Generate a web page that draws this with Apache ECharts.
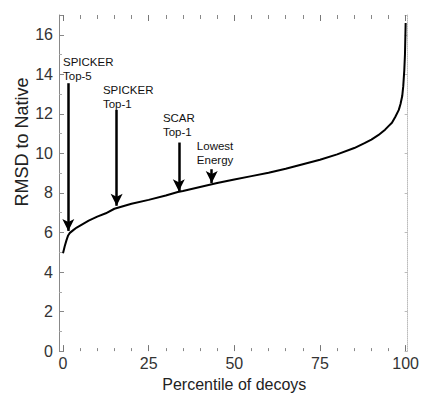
<!DOCTYPE html>
<html>
<head>
<meta charset="utf-8">
<script src="https://cdn.jsdelivr.net/npm/echarts@6/dist/echarts.min.js"></script>
<style>
html,body{margin:0;padding:0;background:#fff;}
#chart{width:422px;height:397px;}
</style>
</head>
<body>
<div id="chart"></div>
<script>
// Percentile of decoys (x) and RMSD to native (y)
var percentile = [0, 0.5, 1, 1.5, 2, 3, 4, 5, 7.5, 10, 12.5, 15, 17.5, 20, 25, 30, 33.5, 35, 40, 45, 50, 55, 60, 65, 70, 75, 80, 85, 88, 90, 92, 94, 95, 96, 97, 98, 98.5, 99, 99.3, 99.6, 99.8, 100];
var rmsd = [4.95, 5.3, 5.6, 5.85, 5.98, 6.12, 6.25, 6.35, 6.6, 6.8, 6.97, 7.2, 7.33, 7.45, 7.65, 7.87, 8.05, 8.1, 8.3, 8.5, 8.68, 8.85, 9.02, 9.22, 9.45, 9.68, 9.95, 10.27, 10.52, 10.7, 10.92, 11.2, 11.38, 11.55, 11.85, 12.2, 12.5, 12.9, 13.4, 14.2, 15.0, 16.6];

var xTicks = [0, 25, 50, 75, 100];
var yTicks = [0, 2, 4, 6, 8, 10, 12, 14, 16];

// Annotations (arrow x, arrow start y, arrow tip y, label x, label y, text)
var annoText = ['SPICKER\nTop-5', 'SPICKER\nTop-1', 'SCAR\nTop-1', 'Lowest\nEnergy'];
var annoX = [1.55, 15.65, 33.8, 43.4];
var annoTop = [13.55, 12.2, 10.55, 9.2];
var annoTip = [6.08, 7.35, 8.08, 8.5];
var labelX = [0, 11.66, 29.15, 39.07];
var labelY = [15.0, 13.55, 12.15, 10.75];

var FONT = 'Liberation Sans, Arial, Helvetica, sans-serif';
var chart = echarts.init(document.getElementById('chart'), null, {renderer: 'svg'});

var data = percentile.map(function (p, i) { return [p, rmsd[i]]; });

var markLines = annoX.map(function (x, i) {
  return [{coord: [x, annoTop[i]]}, {coord: [x, annoTip[i]]}];
});
var markPoints = annoText.map(function (t, i) {
  return {coord: [labelX[i], labelY[i]], value: t};
});

var option = {
  backgroundColor: '#fff',
  animation: false,
  grid: {left: 63, right: 16, top: 15, bottom: 42, containLabel: false},
  xAxis: [{
    type: 'value', gridIndex: 0, min: xTicks[0], max: xTicks[xTicks.length - 1], interval: 25,
    position: 'bottom',
    name: 'Percentile of decoys', nameLocation: 'middle', nameGap: 21,
    nameTextStyle: {fontFamily: FONT, fontSize: 16, color: '#222'},
    axisLine: {show: true, onZero: false, lineStyle: {color: 'rgba(0,0,0,0)'}},
    axisTick: {show: true, inside: true, length: 6, lineStyle: {color: '#777', width: 1}},
    minorTick: {show: true, splitNumber: 5, length: 3, lineStyle: {color: '#888', width: 1}},
    axisLabel: {fontFamily: FONT, fontSize: 16, color: '#333', margin: 4},
    splitLine: {show: false}, minorSplitLine: {show: false}
  }, {
    type: 'value', gridIndex: 0, min: xTicks[0], max: xTicks[xTicks.length - 1], interval: 25,
    position: 'top',
    axisLine: {show: true, onZero: false, lineStyle: {color: 'rgba(0,0,0,0)'}},
    axisTick: {show: true, inside: true, length: 6, lineStyle: {color: '#777', width: 1}},
    minorTick: {show: true, splitNumber: 5, length: 4, lineStyle: {color: '#888', width: 1}},
    axisLabel: {show: false},
    splitLine: {show: false}
  }],
  yAxis: [{
    type: 'value', gridIndex: 0, min: 0, max: 17, interval: 2,
    position: 'left', offset: 4,
    axisLine: {show: true, onZero: false, lineStyle: {color: '#888', width: 1}},
    axisTick: {show: true, inside: true, length: 5, lineStyle: {color: '#888', width: 1}},
    minorTick: {show: true, splitNumber: 2, length: 3, lineStyle: {color: '#aaa', width: 1}},
    axisLabel: {fontFamily: FONT, fontSize: 16, color: '#333', margin: 6, showMaxLabel: false,
      formatter: function (v) { return yTicks.indexOf(v) >= 0 ? String(v) : ''; }},
    splitLine: {show: false}
  }, {
    type: 'value', gridIndex: 0, min: 0, max: 17, interval: 2,
    position: 'right', offset: 2,
    axisLine: {show: true, onZero: false, lineStyle: {color: '#bbb', width: 1, type: 'dotted'}},
    axisTick: {show: true, inside: true, length: 3, lineStyle: {color: '#bbb', width: 1}},
    axisLabel: {show: false},
    splitLine: {show: false}
  }],
  graphic: [{
    type: 'text', x: 22, y: 142, rotation: Math.PI / 2,
    style: {text: 'RMSD to Native', fontFamily: FONT, fontSize: 18, fill: '#222',
      align: 'center', verticalAlign: 'middle'}
  }],
  series: [{
    type: 'line',
    data: data,
    showSymbol: false,
    symbol: 'none',
    lineStyle: {color: '#000', width: 2},
    markLine: {
      silent: true,
      symbol: ['none', 'arrow'],
      symbolSize: [9, 12],
      lineStyle: {color: '#000', width: 2.5, type: 'solid'},
      label: {show: false},
      data: markLines
    },
    markPoint: {
      silent: true,
      symbol: 'circle', symbolSize: 0,
      itemStyle: {color: 'rgba(0,0,0,0)'},
      label: {show: true, position: [0, 0], align: 'left', verticalAlign: 'top',
        fontFamily: FONT, fontSize: 11.5, lineHeight: 14, color: '#111',
        formatter: function (p) { return p.value; }},
      data: markPoints
    }
  }, {
    type: 'line', xAxisIndex: 1, yAxisIndex: 1, data: [], silent: true, symbol: 'none'
  }]
};
chart.setOption(option);
</script>
</body>
</html>
